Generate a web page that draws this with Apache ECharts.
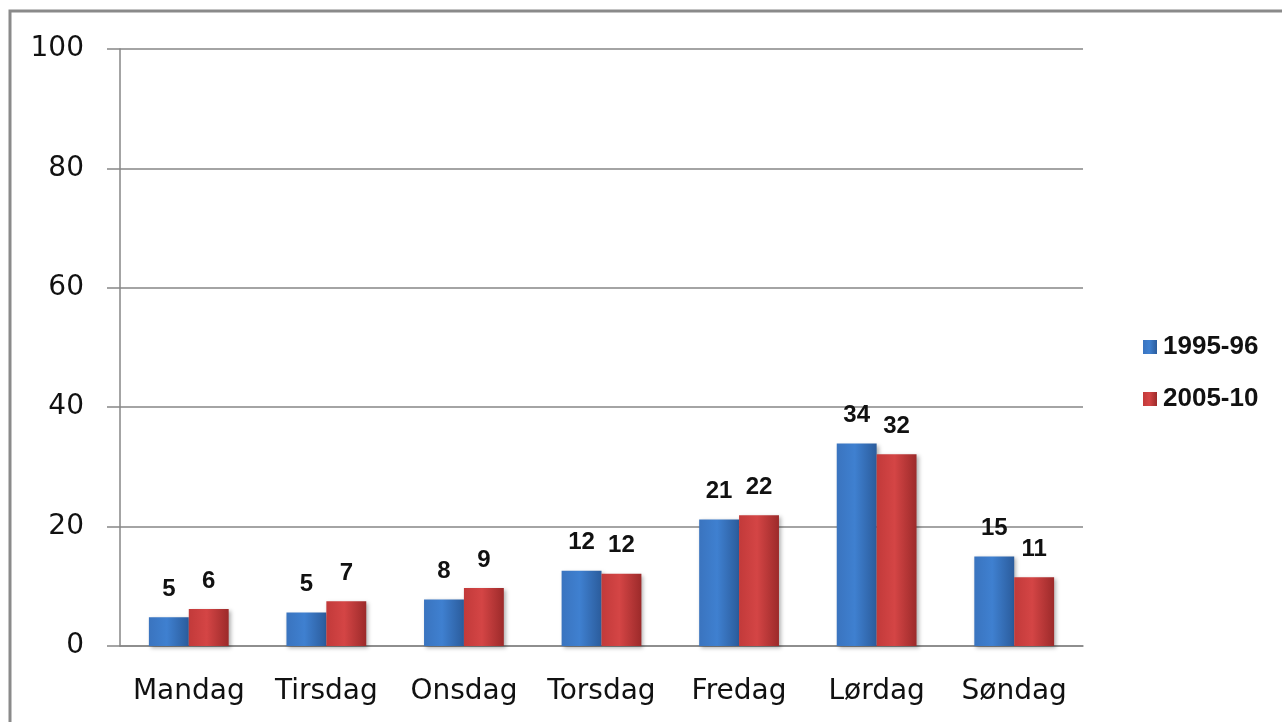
<!DOCTYPE html>
<html>
<head>
<meta charset="utf-8">
<script src="https://cdn.jsdelivr.net/npm/echarts@6/dist/echarts.min.js"></script>
<style>
  html, body { margin: 0; padding: 0; background: #fff; }
  #chart { width: 1282px; height: 722px; }
</style>
</head>
<body>
<div id="chart"></div>
<script>
// ukedager
const days = ["Mandag", "Tirsdag", "Onsdag", "Torsdag", "Fredag", "Lørdag", "Søndag"];
const seriesNames = ["1995-96", "2005-10"];
// søylehøyder lest av bildet
const values9596 = [4.8, 5.6, 7.8, 12.6, 21.2, 33.9, 15.0];
const values0510 = [6.2, 7.5, 9.7, 12.1, 21.9, 32.1, 11.5];
// tallene som står over søylene
const labels9596 = [5, 5, 8, 12, 21, 34, 15];
const labels0510 = [6, 7, 9, 12, 22, 32, 11];
const yTicks = [0, 20, 40, 60, 80, 100];

const blueFill = new echarts.graphic.LinearGradient(0, 0, 1, 0, [
  { offset: 0, color: "#3a74bf" },
  { offset: 0.45, color: "#3f80d0" },
  { offset: 1, color: "#2b5c9c" },
]);
const redFill = new echarts.graphic.LinearGradient(0, 0, 1, 0, [
  { offset: 0, color: "#c23a3a" },
  { offset: 0.45, color: "#d44545" },
  { offset: 1, color: "#9c2a2a" },
]);

const labelStyle = (arr) => ({
  show: true,
  position: "top",
  distance: 16,
  color: "#111",
  fontFamily: "Liberation Sans",
  fontWeight: "bold",
  fontSize: 24,
  formatter: (p) => String(arr[p.dataIndex]),
});

const barShadow = {
  shadowBlur: 4,
  shadowColor: "rgba(0,0,0,0.3)",
  shadowOffsetX: 2,
  shadowOffsetY: 2,
};

const option = {
  animation: false,
  backgroundColor: "#fff",
  graphic: [
    {
      type: "rect",
      z: -10,
      shape: { x: 10, y: 11, width: 1400, height: 900 },
      style: { fill: "none", stroke: "#8a8a8a", lineWidth: 3 },
    },
  ],
  legend: {
    orient: "vertical",
    left: 1138,
    top: 329,
    itemWidth: 14,
    itemHeight: 14,
    itemGap: 26,
    icon: "rect",
    data: seriesNames,
    textStyle: {
      color: "#111",
      fontFamily: "Liberation Sans",
      fontWeight: "bold",
      fontSize: 26,
      padding: [0, 0, 0, 1],
    },
  },
  grid: {
    left: 120,
    right: 199,
    top: 49,
    bottom: 76,
  },
  xAxis: {
    type: "category",
    data: days,
    axisLine: { lineStyle: { color: "#868686", width: 1.5 } },
    axisTick: { length: 11, lineStyle: { color: "#868686", width: 1.5 } },
    axisLabel: {
      interval: 0,
      color: "#111",
      fontFamily: "DejaVu Sans",
      fontSize: 28,
      margin: 32,
    },
  },
  yAxis: {
    type: "value",
    min: yTicks[0],
    max: yTicks[yTicks.length - 1],
    interval: yTicks[1] - yTicks[0],
    axisLine: { show: true, lineStyle: { color: "#868686", width: 1.5 } },
    axisTick: { show: true, length: 13, lineStyle: { color: "#868686", width: 1.5 } },
    splitLine: { lineStyle: { color: "#868686", width: 1.5 } },
    axisLabel: {
      color: "#111",
      fontFamily: "DejaVu Sans",
      fontSize: 28,
      margin: 36,
    },
  },
  series: [
    {
      name: seriesNames[0],
      type: "bar",
      data: values9596,
      barGap: "0%",
      barCategoryGap: "42%",
      itemStyle: Object.assign({ color: blueFill }, barShadow),
      label: labelStyle(labels9596),
    },
    {
      name: seriesNames[1],
      type: "bar",
      data: values0510,
      barGap: "0%",
      barCategoryGap: "42%",
      itemStyle: Object.assign({ color: redFill }, barShadow),
      label: labelStyle(labels0510),
    },
  ],
};

const myChart = echarts.init(document.getElementById("chart"));
myChart.setOption(option);
</script>
</body>
</html>
